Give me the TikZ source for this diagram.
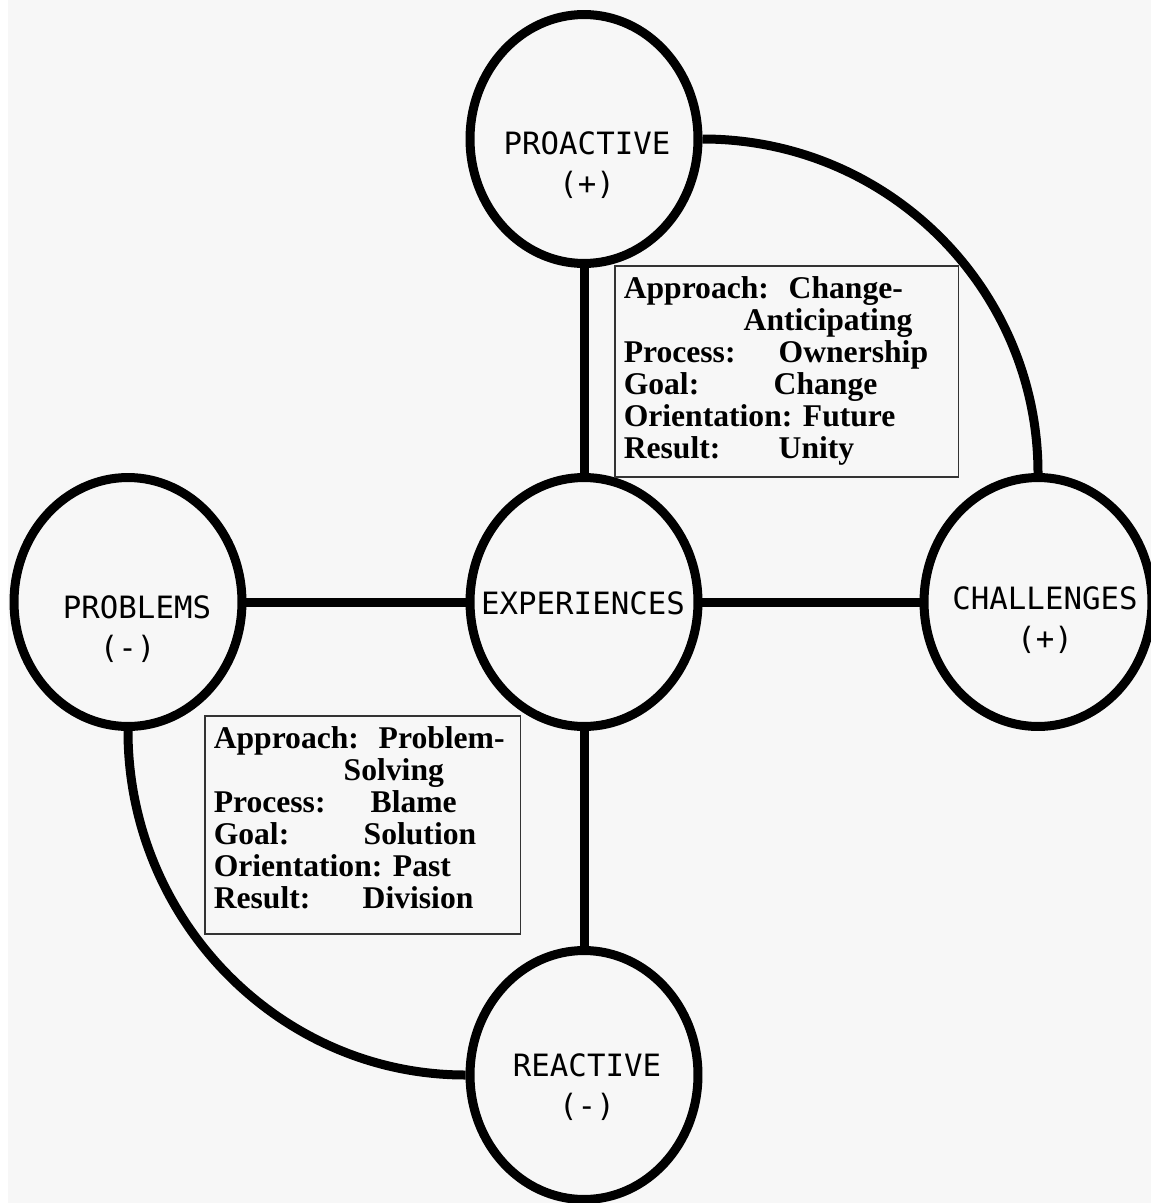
\documentclass[tikz,border=0pt]{standalone}
\usepackage{fontspec}
\newfontfamily\monolabel{DejaVu Sans Mono}
\newfontfamily\boxserif{Liberation Serif}
\usetikzlibrary{shapes.geometric}
\definecolor{paper}{HTML}{F7F7F7}
\newcommand{\field}[3]{\makebox[#1][l]{#2}#3}

\begin{document}
\begin{tikzpicture}[x=0.02cm,y=-0.02cm,
  stage/.style={ellipse,draw,line width=0.18cm,fill=paper,inner sep=0pt,
    minimum width=4.56cm,minimum height=4.98cm},
  tag/.style={font=\monolabel\fontsize{17.5}{23}\selectfont,align=center,inner sep=0pt},
  notes/.style={draw=black!80,line width=0.03cm,fill=paper,anchor=north west,
    inner xsep=0.18cm,inner ysep=0.21cm,align=left,
    font=\boxserif\bfseries\fontsize{18}{18.2}\selectfont\frenchspacing},
  link/.style={line width=0.18cm}]
 \useasboundingbox (0,0) rectangle (1151,1203);
 \fill[white] (0,0) rectangle (1151,1203);
 \fill[paper] (8,0) rectangle (1151,1203);

 % the five stages
 \node[stage] (pro) at (584,139) {};
 \node[stage] (exp) at (584,602) {};
 \node[stage] (prb) at (128,602) {};
 \node[stage] (cha) at (1038,602) {};
 \node[stage] (rea) at (584,1075) {};

 \draw[link] (pro) -- (exp);
 \draw[link] (exp) -- (rea);
 \draw[link] (prb) -- (exp);
 \draw[link] (exp) -- (cha);
 \draw[link] (pro.east) .. controls +(187,0) and +(0,-183) .. (cha.north);
 \draw[link] (prb.south) .. controls +(0,189) and +(-186,0) .. (rea.west);

 \node[tag] (pro-t) at (587,165) {PROACTIVE\\(+)};
 \node[tag] (exp-t) at (583,603) {EXPERIENCES};
 \node[tag,align=left] (prb-t) at (137,629) {PROBLEMS\\\phantom{PR}(-)};
 \node[tag] (cha-t) at (1045,620) {CHALLENGES\\(+)};
 \node[tag] (rea-t) at (587,1087) {REACTIVE\\(-)};

 % the two summaries
 \node[notes,text width=6.52cm] (gain) at (614,265)
 {\field{3.3cm}{Approach:}{Change-}\\
 \hspace*{2.4cm}Anticipating\\
 \field{3.1cm}{Process:}{Ownership}\\
 \field{3.0cm}{Goal:}{Change}\\
 Orientation: Future\\
 \field{3.1cm}{Result:}{Unity}\rule[-0.17cm]{0pt}{0pt}};
 \node[notes,text width=5.96cm] (loss) at (204,715)
 {\field{3.3cm}{Approach:}{Problem-}\\
 \hspace*{2.6cm}Solving\\
 \field{3.14cm}{Process:}{Blame}\\
 \field{3.0cm}{Goal:}{Solution}\\
 Orientation: Past\\
 \field{2.98cm}{Result:}{Division}\rule[-0.31cm]{0pt}{0pt}};
\end{tikzpicture}
\end{document}
